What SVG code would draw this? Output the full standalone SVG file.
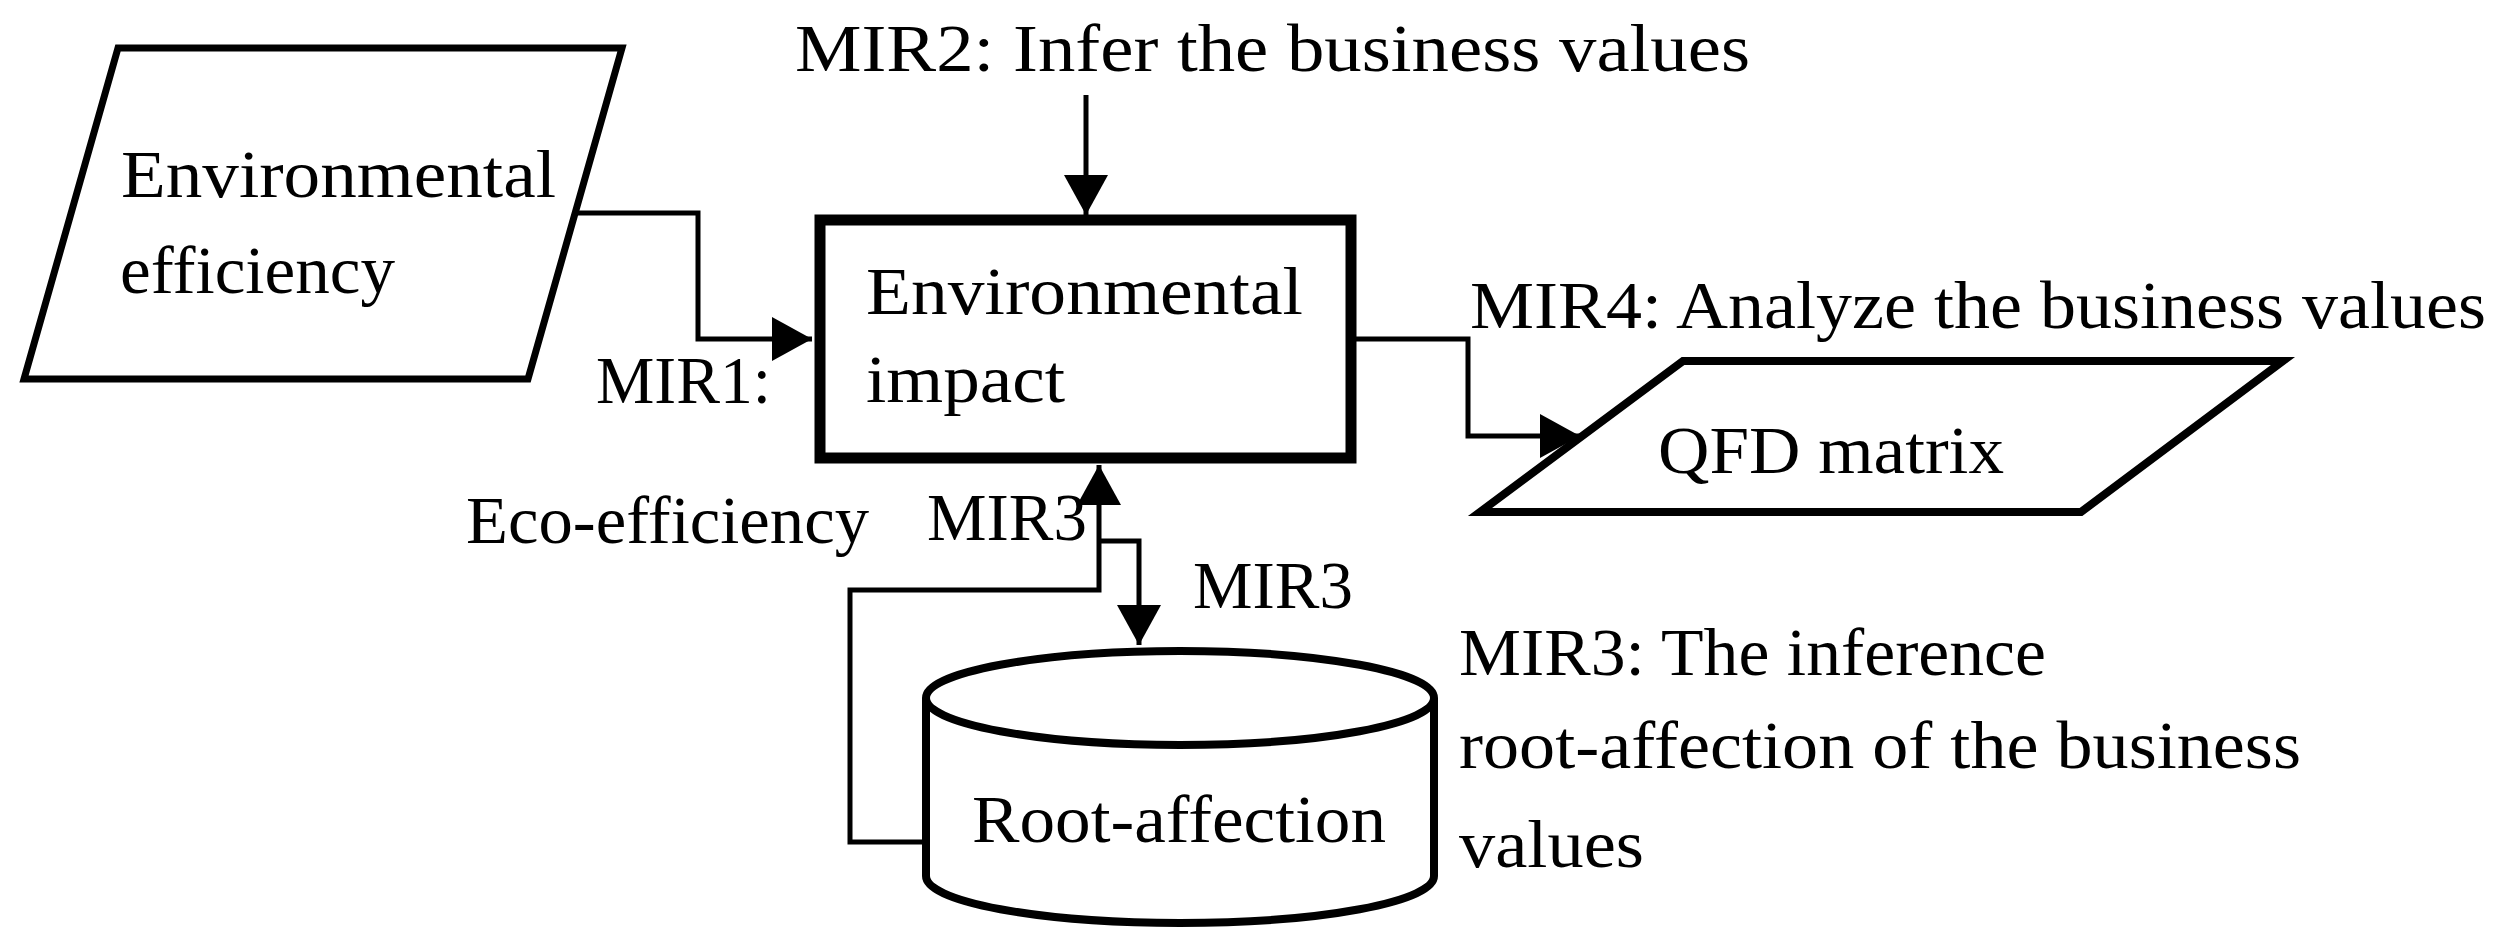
<svg xmlns="http://www.w3.org/2000/svg" width="2495" height="945" viewBox="0 0 2495 945">
<style>
text{font-family:"Liberation Serif","Times New Roman",serif;font-size:68px;fill:#000}
.shape{fill:#fff;stroke:#000;stroke-linejoin:miter}
.conn{fill:none;stroke:#000;stroke-width:5;stroke-linejoin:miter}
</style>
<defs>
<marker id="arr" markerUnits="userSpaceOnUse" markerWidth="42" markerHeight="44" refX="40" refY="22" orient="auto">
<path d="M0,0 L40,22 L0,44 z" fill="#000"/>
</marker>
</defs>
<rect width="2495" height="945" fill="#fff"/>
<g id="connectors">
<path class="conn" d="M575,213 H698 V339 H812" marker-end="url(#arr)"/>
<path class="conn" d="M1086,95 V215" marker-end="url(#arr)"/>
<path class="conn" d="M1356,339 H1468 V436 H1580" marker-end="url(#arr)"/>
<path class="conn" d="M926,842 H850 V590 H1099 V465" marker-end="url(#arr)"/>
<path class="conn" d="M1099,541 H1139 V645" marker-end="url(#arr)"/>
</g>
<g id="env-efficiency">
<polygon class="shape" stroke-width="7" points="118,48 622,48 528,379 24,379"/>
<text x="121" y="197" textLength="435" lengthAdjust="spacingAndGlyphs">Environmental</text>
<text x="120" y="293" textLength="275" lengthAdjust="spacingAndGlyphs">efficiency</text>
</g>
<g id="env-impact">
<rect class="shape" stroke-width="11" x="820" y="220" width="531" height="238"/>
<text x="866" y="314" textLength="437" lengthAdjust="spacingAndGlyphs">Environmental</text>
<text x="866" y="402" textLength="199" lengthAdjust="spacingAndGlyphs">impact</text>
</g>
<g id="qfd-matrix">
<polygon class="shape" stroke-width="8" points="1683,361 2283,361 2081,512 1480,512"/>
<text x="1658" y="473" textLength="346" lengthAdjust="spacingAndGlyphs">QFD matrix</text>
</g>
<g id="root-affection">
<path class="shape" stroke-width="8" d="M926,698 V876 A254,47 0 0,0 1434,876 V698"/>
<ellipse class="shape" stroke-width="8" cx="1180" cy="698" rx="254" ry="47"/>
<text x="972" y="842" textLength="414" lengthAdjust="spacingAndGlyphs">Root-affection</text>
</g>
<g id="labels">
<text x="795" y="71" textLength="955" lengthAdjust="spacingAndGlyphs">MIR2: Infer the business values</text>
<text x="596" y="403" textLength="175" lengthAdjust="spacingAndGlyphs">MIR1:</text>
<text x="1470" y="328" textLength="1016" lengthAdjust="spacingAndGlyphs">MIR4: Analyze the business values</text>
<text x="466" y="543" textLength="403" lengthAdjust="spacingAndGlyphs">Eco-efficiency</text>
<text x="927" y="540" textLength="160" lengthAdjust="spacingAndGlyphs">MIR3</text>
<text x="1193" y="608" textLength="160" lengthAdjust="spacingAndGlyphs">MIR3</text>
<text x="1459" y="675" textLength="587" lengthAdjust="spacingAndGlyphs">MIR3: The inference</text>
<text x="1459" y="768" textLength="842" lengthAdjust="spacingAndGlyphs">root-affection of the business</text>
<text x="1459" y="867" textLength="185" lengthAdjust="spacingAndGlyphs">values</text>
</g>
</svg>
